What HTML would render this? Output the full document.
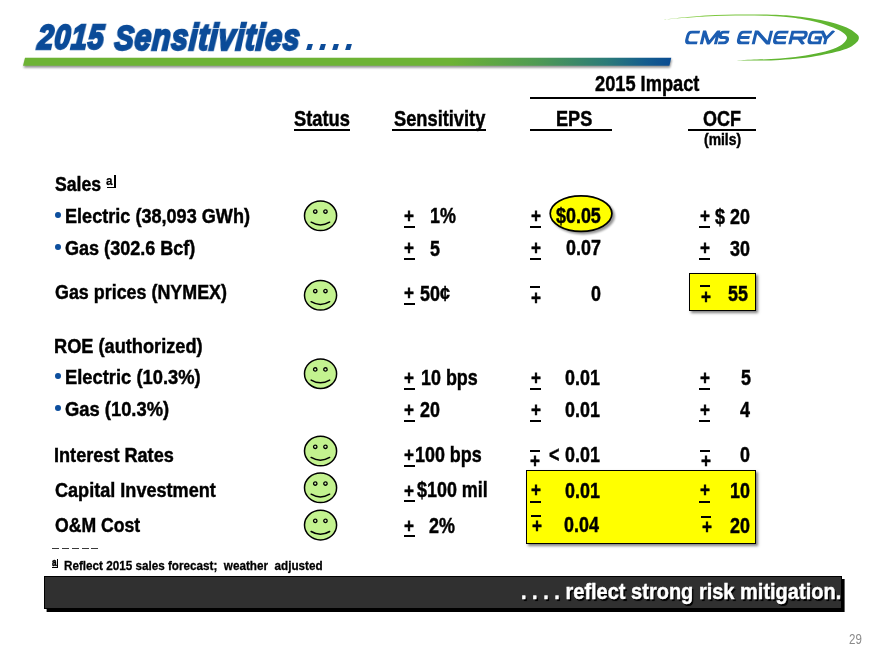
<!DOCTYPE html>
<html><head><meta charset="utf-8"><title>2015 Sensitivities</title>
<style>
html,body{margin:0;padding:0;background:#fff;}
body{width:880px;height:660px;position:relative;overflow:hidden;font-family:"Liberation Sans",sans-serif;}
.t{position:absolute;white-space:pre;line-height:1;font-weight:bold;color:#000;-webkit-text-stroke:0.45px currentColor;transform-origin:0 0;font-family:"Liberation Sans",sans-serif;}
.r{position:absolute;}
svg{position:absolute;overflow:visible}
</style></head><body>
<svg width="880" height="80" style="left:0;top:0">
<defs>
<linearGradient id="bg" x1="0" y1="0" x2="1" y2="0" gradientUnits="objectBoundingBox">
<stop offset="0" stop-color="#6db334"/><stop offset="0.66" stop-color="#6db334"/><stop offset="0.79" stop-color="#509b52"/><stop offset="0.90" stop-color="#2b7b78"/><stop offset="0.96" stop-color="#145d8e"/><stop offset="1" stop-color="#0a4b92"/>
</linearGradient>
<linearGradient id="sw" x1="0" y1="0" x2="1" y2="0.3">
<stop offset="0" stop-color="#8fd24c"/><stop offset="0.6" stop-color="#68ba33"/><stop offset="1" stop-color="#5cb22f"/>
</linearGradient>
<filter id="bs" x="-5%" y="-50%" width="110%" height="300%"><feGaussianBlur stdDeviation="1.3"/></filter>
</defs>
<polygon points="25.5,59.5 672,59.5 670,67.8 23.5,67.8" fill="#000" opacity="0.42" filter="url(#bs)"/>
<polygon points="25,57.8 671.3,57.8 669.4,65.8 23,65.8" fill="url(#bg)"/>
<path d="M663.75,19.5 C670.62,18.83 691.46,16.35 705.00,15.50 C718.54,14.65 732.50,14.49 745.00,14.40 C757.50,14.31 770.77,14.57 780.00,14.95 C789.23,15.33 793.58,15.84 800.40,16.70 C807.22,17.56 814.93,18.91 820.90,20.10 C826.87,21.29 831.43,22.37 836.20,23.85 C840.97,25.33 846.08,27.29 849.50,29.00 C852.92,30.71 855.13,32.66 856.70,34.10 C858.27,35.54 858.90,36.29 858.90,37.65 C858.90,39.01 858.27,40.62 856.70,42.25 C855.13,43.88 852.92,45.81 849.50,47.40 C846.08,48.99 840.97,50.50 836.20,51.80 C831.43,53.10 826.87,54.12 820.90,55.20 C814.93,56.28 807.22,57.52 800.40,58.30 C793.58,59.08 787.23,59.52 780.00,59.90 C772.77,60.28 764.50,60.53 757.00,60.60 C749.50,60.67 738.67,60.35 735.00,60.30 C738.67,60.18 749.50,59.88 757.00,59.60 C764.50,59.32 772.77,59.15 780.00,58.60 C787.23,58.05 793.58,57.32 800.40,56.30 C807.22,55.28 814.93,53.93 820.90,52.50 C826.87,51.07 832.45,49.23 836.20,47.70 C839.95,46.17 841.60,44.97 843.40,43.30 C845.20,41.62 847.00,39.37 847.00,37.65 C847.00,35.93 845.20,34.44 843.40,33.00 C841.60,31.56 839.95,30.62 836.20,29.00 C832.45,27.38 826.87,25.02 820.90,23.30 C814.93,21.58 807.22,19.85 800.40,18.70 C793.58,17.55 789.23,16.92 780.00,16.40 C770.77,15.88 757.50,15.60 745.00,15.60 C732.50,15.60 718.54,15.75 705.00,16.40 C691.46,17.05 670.62,18.98 663.75,19.50 Z" fill="url(#sw)"/>
</svg>
<span class="t" style="left:36.8px;top:20px;font-size:34.6px;transform:scaleX(0.826) skewX(-5deg);color:#0b4b98;-webkit-text-stroke:2.3px #0b4b98;font-style:italic;will-change:transform;letter-spacing:1px;transform-origin:0 29px;">2015</span>
<span class="t" style="left:113.8px;top:20px;font-size:34.6px;transform:scaleX(0.829) skewX(-5deg);color:#0b4b98;-webkit-text-stroke:2.3px #0b4b98;font-style:italic;will-change:transform;letter-spacing:1px;transform-origin:0 29px;">S<span style="font-size:36.4px">ensitivities</span></span>
<div class="r" style="left:306.7px;top:43.6px;width:5.3px;height:6.2px;background:#0b4b98;transform:skewX(-16deg)"></div>
<div class="r" style="left:320.1px;top:43.6px;width:5.3px;height:6.2px;background:#0b4b98;transform:skewX(-16deg)"></div>
<div class="r" style="left:333.3px;top:43.6px;width:5.3px;height:6.2px;background:#0b4b98;transform:skewX(-16deg)"></div>
<div class="r" style="left:346.4px;top:43.6px;width:5.3px;height:6.2px;background:#0b4b98;transform:skewX(-16deg)"></div>
<svg width="880" height="80" style="left:0;top:0"><defs><clipPath id="lc"><rect x="670" y="30.5" width="180" height="14.0"/></clipPath></defs><path transform="matrix(1,0,-0.24,1,10.680,0)" clip-path="url(#lc)" d="M696.85,32.05 H689.25 Q685.65,32.05 685.65,35.65 V39.35 Q685.65,42.95 689.25,42.95 H696.85 M701.25,44.5 V30.9 L708.3,43.550000000000004 L715.35,30.9 V44.5 M726.35,32.05 H720.95 Q717.75,32.05 717.75,35.25 V34.3 Q717.75,37.5 720.95,37.5 H723.15 Q726.35,37.5 726.35,40.7 V39.75 Q726.35,42.95 723.15,42.95 H717.75 M748.85,32.05 H741.05 Q737.4499999999999,32.05 737.4499999999999,35.65 V39.35 Q737.4499999999999,42.95 741.05,42.95 H748.85 M737.4499999999999,37.5 H747.85 M753.15,44.5 V30.8 L768.25,44.2 V30.5 M785.45,32.05 H777.15 Q773.55,32.05 773.55,35.65 V39.35 Q773.55,42.95 777.15,42.95 H785.45 M773.55,37.5 H784.45 M789.75,44.5 V32.05 H800.55 Q803.75,32.05 803.75,35.25 V34.9 Q803.75,38.1 800.55,38.1 H789.75 M797.55,38.3 L803.55,44.5 M819.0500000000001,32.05 H811.65 Q808.05,32.05 808.05,35.65 V39.35 Q808.05,42.95 811.65,42.95 H819.0500000000001 V37.9 H813.0500000000001 M818.3499999999999,30.5 L824.5,38.7 L830.6500000000001,30.5 M824.5,38.7 V44.5" fill="none" stroke="#1c5db1" stroke-width="3.1" stroke-linejoin="miter" stroke-miterlimit="6" stroke-linecap="butt"/></svg>
<span class="t" style="left:594.76px;top:73px;font-size:21.8px;transform:scaleX(0.8362);">2015 Impact</span>
<div class="r" style="left:530.00px;top:97.20px;width:225.80px;height:2.10px;background:#000;"></div>
<span class="t" style="left:293.91px;top:108px;font-size:21.8px;transform:scaleX(0.8398);">Status</span>
<div class="r" style="left:294.00px;top:129.20px;width:55.60px;height:1.80px;background:#000;"></div>
<span class="t" style="left:394.16px;top:108px;font-size:21.8px;transform:scaleX(0.8377);">Sensitivity</span>
<div class="r" style="left:391.70px;top:129.20px;width:94.10px;height:1.80px;background:#000;"></div>
<span class="t" style="left:555.68px;top:108px;font-size:21.8px;transform:scaleX(0.8309);">EPS</span>
<div class="r" style="left:530.00px;top:129.00px;width:82.30px;height:2.10px;background:#000;"></div>
<span class="t" style="left:703.45px;top:108px;font-size:21.8px;transform:scaleX(0.8264);">OCF</span>
<div class="r" style="left:688.00px;top:129.00px;width:67.80px;height:2.10px;background:#000;"></div>
<span class="t" style="left:704.01px;top:132px;font-size:15.8px;transform:scaleX(0.88);">(mils)</span>
<span class="t" style="left:55.19px;top:174px;font-size:20.4px;transform:scaleX(0.8656);">Sales</span>
<span class="t" style="left:105.76px;top:174px;font-size:13.6px;transform:scaleX(0.86);-webkit-text-stroke-width:0.25px;">a</span>
<div class="r" style="left:114.20px;top:175.20px;width:1.70px;height:12.40px;background:#000;"></div>
<div class="r" style="left:107.00px;top:186.60px;width:8.90px;height:1.10px;background:#000;"></div>
<div class="r" style="left:55.1px;top:211.50px;width:5.8px;height:6px;border-radius:50%;background:#0d4f9e"></div>
<span class="t" style="left:65.24px;top:206px;font-size:20.4px;transform:scaleX(0.8871);">Electric (38,093 GWh)</span>
<div class="r" style="left:55.1px;top:243.90px;width:5.8px;height:6px;border-radius:50%;background:#0d4f9e"></div>
<span class="t" style="left:65.46px;top:238px;font-size:20.4px;transform:scaleX(0.8849);">Gas (302.6 Bcf)</span>
<span class="t" style="left:54.96px;top:282px;font-size:20.4px;transform:scaleX(0.8771);">Gas prices (NYMEX)</span>
<span class="t" style="left:54.48px;top:336px;font-size:20.4px;transform:scaleX(0.8927);">ROE (authorized)</span>
<div class="r" style="left:55.1px;top:373.40px;width:5.8px;height:6px;border-radius:50%;background:#0d4f9e"></div>
<span class="t" style="left:65.22px;top:367px;font-size:20.4px;transform:scaleX(0.8997);">Electric (10.3%)</span>
<div class="r" style="left:55.1px;top:405.40px;width:5.8px;height:6px;border-radius:50%;background:#0d4f9e"></div>
<span class="t" style="left:65.45px;top:399px;font-size:20.4px;transform:scaleX(0.9006);">Gas (10.3%)</span>
<span class="t" style="left:54.49px;top:445px;font-size:20.4px;transform:scaleX(0.8883);">Interest Rates</span>
<span class="t" style="left:54.96px;top:480px;font-size:20.4px;transform:scaleX(0.8869);">Capital Investment</span>
<span class="t" style="left:54.97px;top:515px;font-size:20.4px;transform:scaleX(0.8647);">O&amp;M Cost</span>
<svg width="90" height="60" style="left:540px;top:185px"><defs><filter id="es" x="-20%" y="-20%" width="150%" height="160%"><feGaussianBlur stdDeviation="1.3"/></filter></defs><ellipse cx="43.3" cy="30.9" rx="31.6" ry="18.5" fill="#000" opacity=".42" filter="url(#es)"/><ellipse cx="41.05" cy="28.6" rx="30.85" ry="17.8" fill="#ffff00" stroke="#000" stroke-width="1.7"/></svg>
<div class="r" style="left:688.9px;top:272.8px;width:67px;height:38.1px;background:#ffff00;border:1.3px solid #000;box-sizing:border-box;box-shadow:2.4px 2.4px 2.6px rgba(0,0,0,.5)"></div>
<div class="r" style="left:526.4px;top:469.8px;width:229.5px;height:74.7px;background:#ffff00;border:1.4px solid #000;box-sizing:border-box;box-shadow:2.4px 2.4px 2.6px rgba(0,0,0,.5)"></div>
<span class="t" style="left:404.42px;top:206px;font-size:20.4px;transform:scaleX(0.84);">+</span>
<div class="r" style="left:403.85px;top:225.90px;width:11.05px;height:2.10px;background:#000;"></div>
<span class="t" style="left:429.74px;top:205px;font-size:21.8px;transform:scaleX(0.822);">1%</span>
<span class="t" style="left:404.42px;top:238px;font-size:20.4px;transform:scaleX(0.84);">+</span>
<div class="r" style="left:403.85px;top:258.20px;width:11.05px;height:2.10px;background:#000;"></div>
<span class="t" style="left:430.10px;top:238px;font-size:21.8px;transform:scaleX(0.822);">5</span>
<span class="t" style="left:404.42px;top:283px;font-size:20.4px;transform:scaleX(0.84);">+</span>
<div class="r" style="left:403.85px;top:303.30px;width:11.05px;height:2.10px;background:#000;"></div>
<span class="t" style="left:419.98px;top:283px;font-size:21.8px;transform:scaleX(0.822);">50¢</span>
<span class="t" style="left:404.42px;top:368px;font-size:20.4px;transform:scaleX(0.84);">+</span>
<div class="r" style="left:403.85px;top:387.90px;width:11.05px;height:2.10px;background:#000;"></div>
<span class="t" style="left:420.73px;top:367px;font-size:21.8px;transform:scaleX(0.822);">10 bps</span>
<span class="t" style="left:404.42px;top:400px;font-size:20.4px;transform:scaleX(0.84);">+</span>
<div class="r" style="left:403.85px;top:420.30px;width:11.05px;height:2.10px;background:#000;"></div>
<span class="t" style="left:419.77px;top:399px;font-size:21.8px;transform:scaleX(0.822);">20</span>
<span class="t" style="left:404.42px;top:445px;font-size:20.4px;transform:scaleX(0.84);">+</span>
<div class="r" style="left:403.85px;top:464.90px;width:11.05px;height:2.10px;background:#000;"></div>
<span class="t" style="left:415.07px;top:444px;font-size:21.8px;transform:scaleX(0.822);">100 bps</span>
<span class="t" style="left:404.42px;top:481px;font-size:20.4px;transform:scaleX(0.84);">+</span>
<div class="r" style="left:403.85px;top:500.20px;width:11.05px;height:2.10px;background:#000;"></div>
<span class="t" style="left:416.70px;top:479px;font-size:21.8px;transform:scaleX(0.822);">$100 mil</span>
<span class="t" style="left:404.42px;top:516px;font-size:20.4px;transform:scaleX(0.84);">+</span>
<div class="r" style="left:403.85px;top:535.10px;width:11.05px;height:2.10px;background:#000;"></div>
<span class="t" style="left:429.44px;top:515px;font-size:21.8px;transform:scaleX(0.822);">2%</span>
<span class="t" style="left:530.62px;top:206px;font-size:20.4px;transform:scaleX(0.84);">+</span>
<div class="r" style="left:530.05px;top:226.00px;width:11.05px;height:2.10px;background:#000;"></div>
<span class="t" style="left:555.72px;top:205px;font-size:21.8px;transform:scaleX(0.822);">$0.05</span>
<span class="t" style="left:530.62px;top:238px;font-size:20.4px;transform:scaleX(0.84);">+</span>
<div class="r" style="left:530.05px;top:258.20px;width:11.05px;height:2.10px;background:#000;"></div>
<span class="t" style="left:565.98px;top:237px;font-size:21.8px;transform:scaleX(0.822);">0.07</span>
<span class="t" style="left:530.62px;top:288px;font-size:20.4px;transform:scaleX(0.84);">+</span>
<div class="r" style="left:530.10px;top:286.20px;width:9.70px;height:2.05px;background:#000;"></div>
<span class="t" style="left:590.83px;top:283px;font-size:21.8px;transform:scaleX(0.822);">0</span>
<span class="t" style="left:530.62px;top:368px;font-size:20.4px;transform:scaleX(0.84);">+</span>
<div class="r" style="left:530.05px;top:387.90px;width:11.05px;height:2.10px;background:#000;"></div>
<span class="t" style="left:565.18px;top:367px;font-size:21.8px;transform:scaleX(0.822);">0.01</span>
<span class="t" style="left:530.62px;top:400px;font-size:20.4px;transform:scaleX(0.84);">+</span>
<div class="r" style="left:530.05px;top:420.00px;width:11.05px;height:2.10px;background:#000;"></div>
<span class="t" style="left:565.18px;top:399px;font-size:21.8px;transform:scaleX(0.822);">0.01</span>
<span class="t" style="left:530.32px;top:451px;font-size:20.4px;transform:scaleX(0.84);">+</span>
<div class="r" style="left:529.80px;top:449.70px;width:10.00px;height:2.05px;background:#000;"></div>
<span class="t" style="left:549.43px;top:444px;font-size:21.8px;transform:scaleX(0.822);">&lt;</span>
<span class="t" style="left:565.18px;top:444px;font-size:21.8px;transform:scaleX(0.822);">0.01</span>
<span class="t" style="left:530.62px;top:480px;font-size:20.4px;transform:scaleX(0.84);">+</span>
<div class="r" style="left:530.05px;top:500.60px;width:11.05px;height:2.10px;background:#000;"></div>
<span class="t" style="left:565.18px;top:480px;font-size:21.8px;transform:scaleX(0.822);">0.01</span>
<span class="t" style="left:531.72px;top:516px;font-size:20.4px;transform:scaleX(0.84);">+</span>
<div class="r" style="left:531.00px;top:515.00px;width:10.00px;height:2.05px;background:#000;"></div>
<span class="t" style="left:564.48px;top:514px;font-size:21.8px;transform:scaleX(0.822);">0.04</span>
<span class="t" style="left:699.72px;top:206px;font-size:20.4px;transform:scaleX(0.84);">+</span>
<div class="r" style="left:699.15px;top:225.80px;width:11.05px;height:2.10px;background:#000;"></div>
<span class="t" style="left:714.65px;top:206px;font-size:21.8px;transform:scaleX(0.822);">$</span>
<span class="t" style="left:729.87px;top:206px;font-size:21.8px;transform:scaleX(0.822);">20</span>
<span class="t" style="left:699.72px;top:238px;font-size:20.4px;transform:scaleX(0.84);">+</span>
<div class="r" style="left:699.15px;top:257.90px;width:11.05px;height:2.10px;background:#000;"></div>
<span class="t" style="left:730.17px;top:238px;font-size:21.8px;transform:scaleX(0.822);">30</span>
<span class="t" style="left:700.52px;top:287px;font-size:20.4px;transform:scaleX(0.84);">+</span>
<div class="r" style="left:700.20px;top:285.30px;width:9.60px;height:2.05px;background:#000;"></div>
<span class="t" style="left:727.93px;top:283px;font-size:21.8px;transform:scaleX(0.822);">55</span>
<span class="t" style="left:699.72px;top:368px;font-size:20.4px;transform:scaleX(0.84);">+</span>
<div class="r" style="left:699.15px;top:387.90px;width:11.05px;height:2.10px;background:#000;"></div>
<span class="t" style="left:740.50px;top:367px;font-size:21.8px;transform:scaleX(0.822);">5</span>
<span class="t" style="left:699.72px;top:400px;font-size:20.4px;transform:scaleX(0.84);">+</span>
<div class="r" style="left:699.15px;top:420.00px;width:11.05px;height:2.10px;background:#000;"></div>
<span class="t" style="left:740.30px;top:399px;font-size:21.8px;transform:scaleX(0.822);">4</span>
<span class="t" style="left:700.82px;top:451px;font-size:20.4px;transform:scaleX(0.84);">+</span>
<div class="r" style="left:700.20px;top:449.70px;width:9.90px;height:2.05px;background:#000;"></div>
<span class="t" style="left:739.83px;top:444px;font-size:21.8px;transform:scaleX(0.822);">0</span>
<span class="t" style="left:699.72px;top:480px;font-size:20.4px;transform:scaleX(0.84);">+</span>
<div class="r" style="left:699.15px;top:500.60px;width:11.05px;height:2.10px;background:#000;"></div>
<span class="t" style="left:730.17px;top:480px;font-size:21.8px;transform:scaleX(0.822);">10</span>
<span class="t" style="left:701.62px;top:517px;font-size:20.4px;transform:scaleX(0.84);">+</span>
<div class="r" style="left:701.00px;top:515.90px;width:9.90px;height:2.05px;background:#000;"></div>
<span class="t" style="left:729.87px;top:515px;font-size:21.8px;transform:scaleX(0.822);">20</span>
<div class="r" style="left:52.10px;top:547.60px;width:7.10px;height:1.80px;background:#3a3a3a;"></div>
<div class="r" style="left:61.92px;top:547.60px;width:7.10px;height:1.80px;background:#3a3a3a;"></div>
<div class="r" style="left:71.74px;top:547.60px;width:7.10px;height:1.80px;background:#3a3a3a;"></div>
<div class="r" style="left:81.56px;top:547.60px;width:7.10px;height:1.80px;background:#3a3a3a;"></div>
<div class="r" style="left:91.38px;top:547.60px;width:7.10px;height:1.80px;background:#3a3a3a;"></div>
<span class="t" style="left:52.36px;top:557px;font-size:10.5px;transform:scaleX(0.78);-webkit-text-stroke-width:0.5px;">a</span>
<div class="r" style="left:56.70px;top:559.20px;width:1.20px;height:8.50px;background:#000;"></div>
<div class="r" style="left:52.30px;top:566.90px;width:5.50px;height:0.80px;background:#000;"></div>
<span class="t" style="left:63.65px;top:559px;font-size:13.0px;transform:scaleX(0.8992);-webkit-text-stroke-width:0.3px;">Reflect 2015 sales forecast;  weather  adjusted</span>
<div class="r" style="left:44.1px;top:575.9px;width:797.7px;height:33.3px;background:#303030;border:1.2px solid #000;box-sizing:border-box;box-shadow:2.6px 3px 0 #000"></div>
<span class="t" style="left:521.24px;top:581px;font-size:22.4px;transform:scaleX(0.8936);color:#fff;text-shadow:1.7px 1.7px 0.8px #000;">. . . . reflect strong risk mitigation.</span>
<span class="t" style="left:849.32px;top:632px;font-size:14.6px;transform:scaleX(0.79);color:#8a8a8a;font-weight:normal;-webkit-text-stroke-width:0;">29</span>
<svg width="880" height="660" style="left:0;top:0"><g transform="translate(320.55,215.8)"><ellipse rx="16.05" ry="14.8" fill="#c3f28f" stroke="#000" stroke-width="1.5"/><circle cx="-5.3" cy="-4.25" r="1.7" fill="#d6f7b0" stroke="#000" stroke-width="1.3"/><circle cx="4.9" cy="-4.25" r="1.7" fill="#d6f7b0" stroke="#000" stroke-width="1.3"/><path d="M-9.4,6.4 Q-0.1,11.9 9.1,6.4" fill="none" stroke="#000" stroke-width="1.5" stroke-linecap="round"/></g><g transform="translate(320.55,295.3)"><ellipse rx="16.05" ry="14.8" fill="#c3f28f" stroke="#000" stroke-width="1.5"/><circle cx="-5.3" cy="-4.25" r="1.7" fill="#d6f7b0" stroke="#000" stroke-width="1.3"/><circle cx="4.9" cy="-4.25" r="1.7" fill="#d6f7b0" stroke="#000" stroke-width="1.3"/><path d="M-9.4,6.4 Q-0.1,11.9 9.1,6.4" fill="none" stroke="#000" stroke-width="1.5" stroke-linecap="round"/></g><g transform="translate(320.55,373.7)"><ellipse rx="16.05" ry="14.8" fill="#c3f28f" stroke="#000" stroke-width="1.5"/><circle cx="-5.3" cy="-4.25" r="1.7" fill="#d6f7b0" stroke="#000" stroke-width="1.3"/><circle cx="4.9" cy="-4.25" r="1.7" fill="#d6f7b0" stroke="#000" stroke-width="1.3"/><path d="M-9.4,6.4 Q-0.1,11.9 9.1,6.4" fill="none" stroke="#000" stroke-width="1.5" stroke-linecap="round"/></g><g transform="translate(320.55,451.05)"><ellipse rx="16.05" ry="14.8" fill="#c3f28f" stroke="#000" stroke-width="1.5"/><circle cx="-5.3" cy="-4.25" r="1.7" fill="#d6f7b0" stroke="#000" stroke-width="1.3"/><circle cx="4.9" cy="-4.25" r="1.7" fill="#d6f7b0" stroke="#000" stroke-width="1.3"/><path d="M-9.4,6.4 Q-0.1,11.9 9.1,6.4" fill="none" stroke="#000" stroke-width="1.5" stroke-linecap="round"/></g><g transform="translate(320.55,487.8)"><ellipse rx="16.05" ry="14.8" fill="#c3f28f" stroke="#000" stroke-width="1.5"/><circle cx="-5.3" cy="-4.25" r="1.7" fill="#d6f7b0" stroke="#000" stroke-width="1.3"/><circle cx="4.9" cy="-4.25" r="1.7" fill="#d6f7b0" stroke="#000" stroke-width="1.3"/><path d="M-9.4,6.4 Q-0.1,11.9 9.1,6.4" fill="none" stroke="#000" stroke-width="1.5" stroke-linecap="round"/></g><g transform="translate(320.55,525.1)"><ellipse rx="16.05" ry="14.8" fill="#c3f28f" stroke="#000" stroke-width="1.5"/><circle cx="-5.3" cy="-4.25" r="1.7" fill="#d6f7b0" stroke="#000" stroke-width="1.3"/><circle cx="4.9" cy="-4.25" r="1.7" fill="#d6f7b0" stroke="#000" stroke-width="1.3"/><path d="M-9.4,6.4 Q-0.1,11.9 9.1,6.4" fill="none" stroke="#000" stroke-width="1.5" stroke-linecap="round"/></g></svg>
</body></html>
